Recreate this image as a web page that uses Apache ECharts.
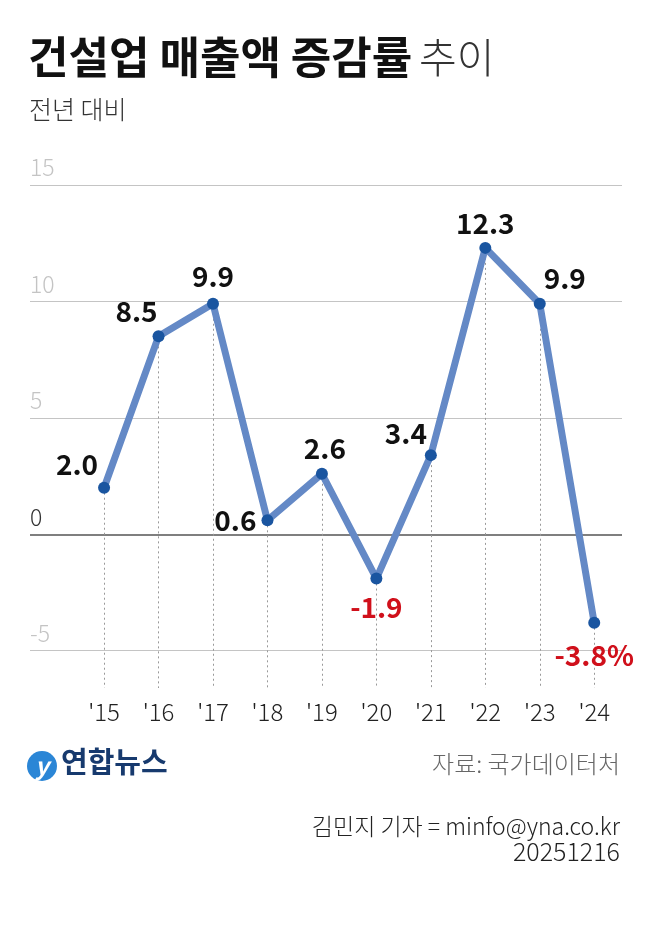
<!DOCTYPE html>
<html>
<head>
<meta charset="utf-8">
<script src="https://cdn.jsdelivr.net/npm/echarts@6/dist/echarts.min.js"></script>
<style>
html, body { margin: 0; padding: 0; background: #fff; }
#chart { width: 650px; height: 925px; }
</style>
</head>
<body>
<div id="chart"></div>
<script>
// 연도별 건설업 매출액 증감률 (전년 대비, %)
var years = ["'15", "'16", "'17", "'18", "'19", "'20", "'21", "'22", "'23", "'24"];
var growth = [2.0, 8.5, 9.9, 0.6, 2.6, -1.9, 3.4, 12.3, 9.9, -3.8];
var yTicks = [15, 10, 5, 0, -5];

var yMin = -6.6, yMax = 15;
var FONT = "'Noto Sans CJK KR', sans-serif";

// 값 라벨 위치
var labelPos = [
    ['top', [-27, 2]],
    ['top', [-22, 0]],
    ['top', [0, -2]],
    ['left', [0, 0]],
    ['top', [3, 0]],
    ['bottom', [0, 4]],
    ['top', [-25, 3]],
    ['top', [0, 0]],
    ['top', [25, 0]],
    ['bottom', [0, 8]]
];

var chart = echarts.init(document.getElementById('chart'));

var lineData = growth.map(function (v, i) {
    return {
        value: [i, v],
        label: {
            position: labelPos[i][0],
            offset: labelPos[i][1],
            color: v < 0 ? '#d0101b' : '#111'
        }
    };
});

// 점에서 아래로 내려오는 점선
var dropLines = growth.map(function (v, i) {
    return [{ coord: [i, v] }, { coord: [i, yMin] }];
});

var gridLines = yTicks.map(function (t) {
    return {
        yAxis: t,
        lineStyle: t === 0 ? { color: '#555', width: 1.5, type: 'solid' } : { color: '#c4c4c4', width: 1, type: 'solid' },
        label: {
            formatter: String(t),
            color: t === 0 ? '#333' : '#c4c4c4'
        }
    };
});

var option = {
    animation: false,
    backgroundColor: '#fff',
    grid: { left: 30, right: 28, top: 185, bottom: 237 },
    xAxis: {
        type: 'value',
        min: -1.36,
        max: 9.51,
        axisLine: { show: false },
        axisTick: { show: false },
        splitLine: { show: false },
        axisLabel: {
            customValues: years.map(function (y, i) { return i; }),
            formatter: function (v) { return years[v]; },
            fontFamily: FONT,
            fontWeight: 300,
            fontSize: 24,
            color: '#222',
            margin: 12
        }
    },
    yAxis: {
        type: 'value',
        min: yMin,
        max: yMax,
        axisLine: { show: false },
        axisTick: { show: false },
        axisLabel: { show: false },
        splitLine: { show: false }
    },
    series: [
        {
            type: 'line',
            z: 1,
            silent: true,
            data: growth.map(function (v, i) { return [i, v]; }),
            showSymbol: false,
            lineStyle: { width: 0, opacity: 0 },
            markLine: {
                silent: true,
                symbol: ['none', 'none'],
                animation: false,
                label: {
                    show: true,
                    position: 'insideStartTop',
                    fontFamily: FONT,
                    fontWeight: 300,
                    fontSize: 23,
                    distance: [0, 6]
                },
                data: gridLines
            }
        },
        {
            type: 'line',
            z: 2,
            silent: true,
            data: growth.map(function (v, i) { return [i, v]; }),
            showSymbol: false,
            lineStyle: { width: 0, opacity: 0 },
            markLine: {
                silent: true,
                symbol: ['none', 'none'],
                animation: false,
                label: { show: false },
                lineStyle: { color: '#999', width: 1, type: [2, 3] },
                data: dropLines
            }
        },
        {
            type: 'line',
            z: 5,
            data: lineData,
            symbol: 'circle',
            symbolSize: 12,
            itemStyle: { color: '#1a55a0' },
            lineStyle: { color: '#6489c6', width: 7 },
            label: {
                show: true,
                fontFamily: FONT,
                fontWeight: 'bold',
                fontSize: 28,
                distance: 5,
                formatter: function (p) {
                    var s = p.value[1].toFixed(1);
                    return p.dataIndex === growth.length - 1 ? s + '%' : s;
                }
            }
        }
    ],
    graphic: [
        {
            type: 'text', left: 28, top: 35,
            style: { text: '건설업 매출액 증감률', font: 'bold 44px ' + FONT, fill: '#111' }
        },
        {
            type: 'text', left: 419, top: 37,
            style: { text: '추이', font: '300 41px ' + FONT, fill: '#333' }
        },
        {
            type: 'text', left: 29, top: 97,
            style: { text: '전년 대비', font: '300 25px ' + FONT, fill: '#333' }
        },
        {
            type: 'circle', shape: { cx: 42, cy: 766, r: 15 },
            style: { fill: '#2b86d6' }
        },
        {
            type: 'text', x: 42, y: 766,
            style: { text: 'y', font: 'italic bold 24px ' + FONT, fill: '#fff', align: 'center', verticalAlign: 'middle' }
        },
        {
            type: 'text', left: 61, top: 747,
            style: { text: '연합뉴스', font: 'bold 29px ' + FONT, fill: '#173a6e' }
        },
        {
            type: 'text', right: 30, top: 752,
            style: { text: '자료: 국가데이터처', font: '300 24px ' + FONT, fill: '#666' }
        },
        {
            type: 'text', right: 30, top: 815,
            style: { text: '김민지 기자 = minfo@yna.co.kr', font: '300 23px ' + FONT, fill: '#222' }
        },
        {
            type: 'text', right: 30, top: 839,
            style: { text: '20251216', font: '300 25px ' + FONT, fill: '#222' }
        }
    ]
};

chart.setOption(option);
</script>
</body>
</html>
